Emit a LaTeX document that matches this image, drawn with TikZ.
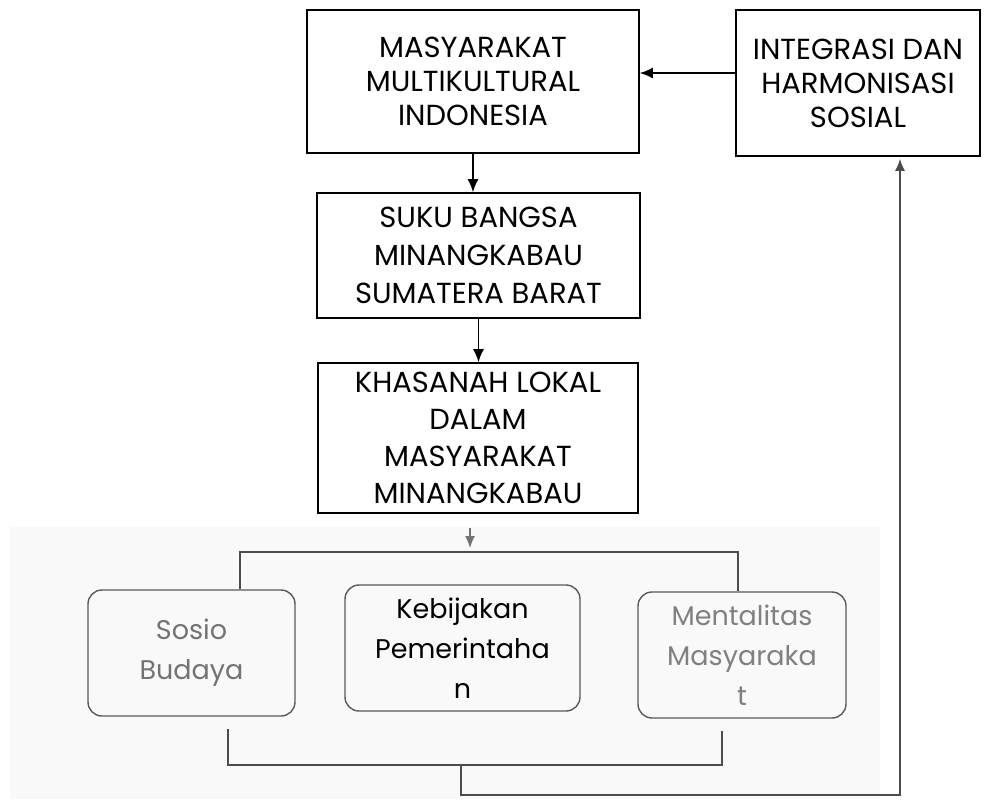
\documentclass[tikz,border=0pt]{standalone}
\usepackage{fontspec}
\setmainfont{Poppins}
\usetikzlibrary{arrows.meta}

\begin{document}
\begin{tikzpicture}[x=0.5pt, y=-0.5pt, font=\fontsize{14.5}{17}\selectfont]
    \useasboundingbox (0,0) rectangle (986,799);
    % faint background of the lower part
    \fill[black!2.5] (10,527) rectangle (880,799);

    % Upper chain
    \node[rectangle, draw, line width=0.8pt, minimum width=166pt, minimum height=71.5pt, align=center] (masyarakat) at (473,81.5) {MASYARAKAT\\MULTIKULTURAL\\INDONESIA};
    \node[rectangle, draw, line width=0.8pt, minimum width=122pt, minimum height=73pt, align=center] (integrasi) at (858,83) {INTEGRASI DAN\\HARMONISASI\\SOSIAL};
    \node[rectangle, draw, line width=0.8pt, minimum width=161.5pt, minimum height=62.5pt, align=center, font=\fontsize{14.5}{19}\selectfont] (suku) at (478.5,255.5) {SUKU BANGSA\\MINANGKABAU\\SUMATERA BARAT};
    \node[rectangle, draw, line width=0.8pt, minimum width=160pt, minimum height=75pt, align=center, font=\fontsize{14.5}{18.5}\selectfont] (khasanah) at (478,438) {KHASANAH LOKAL\\DALAM\\MASYARAKAT\\MINANGKABAU};

    % Factors
    \node[rectangle, draw=black!65, line width=0.7pt, rounded corners=7pt, minimum width=103.5pt, minimum height=63pt, align=center, text=black!55, font=\fontsize{13.5}{20}\selectfont] (sosio) at (191.5,653) {Sosio\\Budaya};
    \node[rectangle, draw=black!65, line width=0.7pt, rounded corners=7pt, minimum width=117.5pt, minimum height=63pt, align=center, font=\fontsize{13.5}{20}\selectfont] (kebijakan) at (462.5,648) {Kebijakan\\Pemerintaha\\n};
    \node[rectangle, draw=black!65, line width=0.7pt, rounded corners=7pt, minimum width=104pt, minimum height=63pt, align=center, text=black!50, font=\fontsize{13.5}{20}\selectfont] (mentalitas) at (742,655) {Mentalitas\\Masyaraka\\t};

    % Coordinates of the branching lines
    \coordinate (split) at (470,552);
    \coordinate (bl) at (240,552);
    \coordinate (br) at (738,552);
    \coordinate (cl) at (228,765);
    \coordinate (cr) at (722,765);
    \coordinate (cm) at (461,765);
    \coordinate (cb) at (461,795);
    \coordinate (cf) at (900,795);

    % Arrows
    \draw[-{Latex[length=6.5pt, width=5.5pt]}, line width=0.8pt] ([yshift=5pt]integrasi.west) -- ([yshift=5pt]integrasi.west -| masyarakat.east);
    \draw[-{Latex[length=6.5pt, width=5.5pt]}, line width=0.8pt] (masyarakat.south) -- (masyarakat.south |- suku.north);
    \draw[-{Latex[length=6.5pt, width=5.5pt]}, line width=0.8pt] (suku.south) -- (suku.south |- khasanah.north);
    \draw[-{Latex[length=6pt, width=5pt]}, line width=0.7pt, black!55] ([yshift=-7pt]khasanah.south -| split) -- ([yshift=2pt]split);
    \draw[line width=0.7pt, black!70] (bl |- sosio.north) -- (bl) -- (br) -- (br |- mentalitas.north);
    \draw[line width=0.7pt, black!70] ([yshift=-6pt]sosio.south -| cl) -- (cl) -- (cr) -- ([yshift=-6pt]mentalitas.south -| cr);
    \draw[-{Latex[length=6pt, width=5pt]}, line width=0.7pt, black!70] (cm) -- (cb) -- (cf) -- ([yshift=-1pt]cf |- integrasi.south);
\end{tikzpicture}
\end{document}
